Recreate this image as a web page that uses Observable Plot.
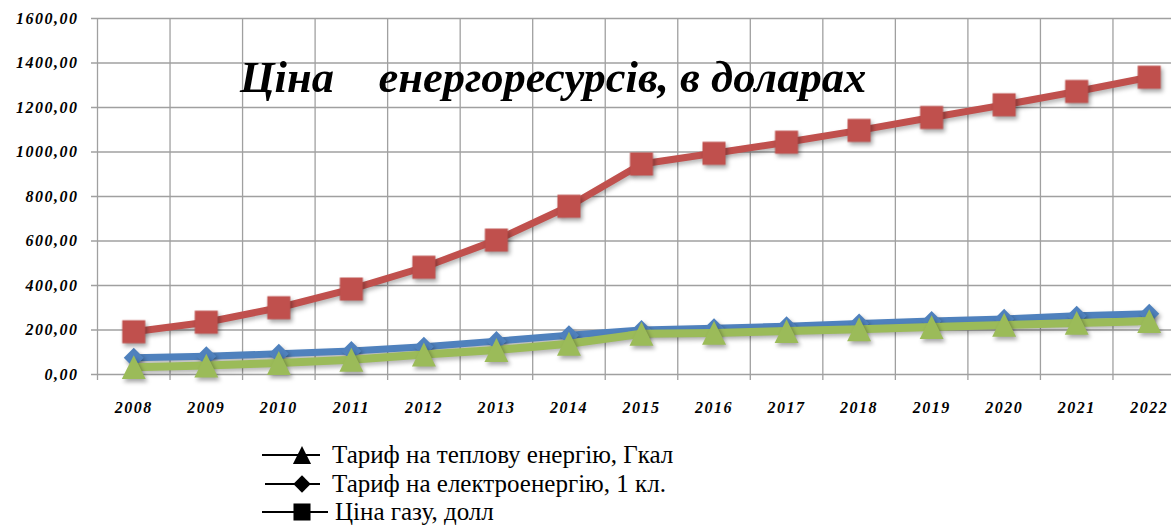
<!DOCTYPE html>
<html><head><meta charset="utf-8">
<script src="https://cdn.jsdelivr.net/npm/d3@7"></script>
<script src="https://cdn.jsdelivr.net/npm/@observablehq/plot@0.6"></script>
<style>
body{margin:0;background:#fff;}
#wrap{position:relative;width:1171px;height:527px;overflow:hidden;background:#fff;}
#chart svg{overflow:hidden;display:block;}
#title{position:absolute;left:240px;top:55px;font:italic bold 44.5px "Liberation Serif";line-height:44px;white-space:pre;color:#000;}
.legend-row{position:absolute;left:262px;height:28px;display:flex;align-items:center;font:25px "Liberation Serif";white-space:pre;color:#000;}
.legend-row svg{display:block;}
#chart g[aria-label="dot"]{filter:drop-shadow(2px 3px 2px rgba(0,0,0,0.35));}
#chart g[aria-label="line"]{filter:drop-shadow(1px 3px 2px rgba(0,0,0,0.28));}
</style></head>
<body>
<div id="wrap">
  <div id="chart"></div>
  <div id="title"></div>
  <div id="legend"></div>
</div>
<script>
const years = [2008,2009,2010,2011,2012,2013,2014,2015,2016,2017,2018,2019,2020,2021,2022];
const heatTariff = [33,40,52,66,90,110,138,183,187,195,203,213,223,232,240];
const elecTariff = [75,82,93,106,125,150,176,200,208,217,229,240,250,264,273];
const gasPrice = [192,235,300,384,482,604,756,946,994,1044,1097,1155,1212,1272,1336];
const seriesNames = ["Тариф на теплову енергію, Гкал","Тариф на електроенергію, 1 кл.","Ціна газу, долл"];
const seriesColors = ["#9BBB59","#4F81BD","#C0504D"];
const yTicks = [0,200,400,600,800,1000,1200,1400,1600];
const titleText = "Ціна    енергоресурсів, в доларах";

const triSym = {draw(ctx,size){const s=Math.sqrt(size);ctx.moveTo(0,-s/2);ctx.lineTo(s/2,s/2);ctx.lineTo(-s/2,s/2);ctx.closePath();}};
const diaSym = {draw(ctx,size){const d=Math.sqrt(size)/2;ctx.moveTo(0,-d);ctx.lineTo(d,0);ctx.lineTo(0,d);ctx.lineTo(-d,0);ctx.closePath();}};
const sqSym = {draw(ctx,size){const d=Math.sqrt(size)/2;ctx.rect(-d,-d,2*d,2*d);}};
const symbols = [triSym, diaSym, sqSym];

const rows = (vals) => years.map((year,i)=>({year, value: vals[i]}));
const heat = rows(heatTariff), elec = rows(elecTariff), gas = rows(gasPrice);
const boundaries = years.map(y=>y-0.5);
const fmt = d => d.toFixed(2).replace(".", ",");
const axisFont = {fontFamily:"Liberation Serif", fontSize:16, fontStyle:"italic", fontWeight:"bold", fill:"#000"};

const plot = Plot.plot({
  width:1171, height:430,
  marginLeft:97, marginRight:0, marginTop:18, marginBottom:56,
  style:{color:"#000", background:"#fff"},
  x:{domain:[years[0]-0.5, years[years.length-1]+0.5], range:[97,1185]},
  y:{domain:[0,1600]},
  marks:[
    Plot.ruleY(yTicks,{stroke:"#a0a0a0", strokeWidth:1.3, insetLeft:-6}),
    Plot.ruleX(boundaries,{stroke:"#a0a0a0", strokeWidth:1.3, insetBottom:-6}),
    Plot.axisY(yTicks,{tickSize:0, tickPadding:19, tickFormat:fmt, label:null, ...axisFont}),
    Plot.axisX(years,{tickSize:0, tickPadding:27, tickFormat:d=>String(d), label:null, ...axisFont}),
    Plot.line(elec,{x:"year", y:"value", stroke:seriesColors[1], strokeWidth:7}),
    Plot.dot(elec,{x:"year", y:"value", symbol:diaSym, r:11.3, fill:seriesColors[1], stroke:null}),
    Plot.line(gas,{x:"year", y:"value", stroke:seriesColors[2], strokeWidth:7}),
    Plot.dot(gas,{x:"year", y:"value", symbol:sqSym, r:13, fill:seriesColors[2], stroke:null}),
    Plot.line(heat,{x:"year", y:"value", stroke:seriesColors[0], strokeWidth:8}),
    Plot.dot(heat,{x:"year", y:"value", symbol:triSym, r:13.5, fill:seriesColors[0], stroke:null})
  ]
});
// axis labels: serif bold italic, slightly spaced like the original
d3.select(plot).selectAll("g[aria-label$='tick label']")
  .style("font-family","'Liberation Serif', serif")
  .style("font-style","italic").style("font-weight","bold").style("font-size","16px")
  .style("letter-spacing","1.5px");
document.getElementById("chart").appendChild(plot);
document.getElementById("title").textContent = titleText;

const legendCenters = [455, 483.5, 511.5];
const legend = d3.select("#legend");
seriesNames.forEach((name,i)=>{
  const row = legend.append("div").attr("class","legend-row").style("top",(legendCenters[i]-14)+"px");
  const w = i===2 ? 73 : 70;
  const svg = row.append("svg").attr("width",w).attr("height",28);
  svg.append("line").attr("x1",i===1?3:0).attr("x2",i===2?66:58).attr("y1",14).attr("y2",14).attr("stroke","#000").attr("stroke-width",2);
  const sz = [330, 300, 290][i];
  svg.append("path").attr("transform","translate(40,14)").attr("d",d3.symbol(symbols[i], sz)()).attr("fill","#000");
  row.append("span").text(name);
});
</script>
</body></html>
